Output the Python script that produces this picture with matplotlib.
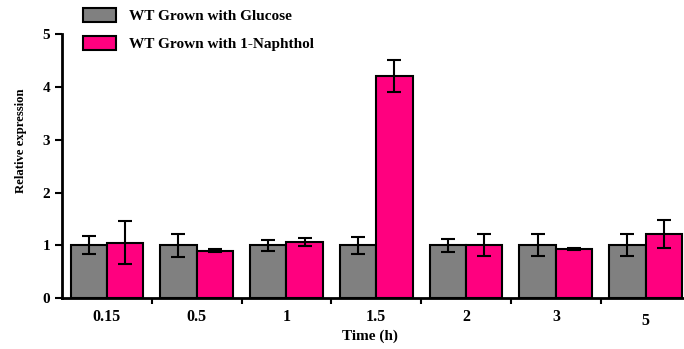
import matplotlib
matplotlib.use('Agg')
import matplotlib.pyplot as plt
import matplotlib.transforms as mtransforms
from matplotlib.patches import Patch
import numpy as np

plt.rcParams['font.family'] = ['Liberation Serif', 'DejaVu Serif']
plt.rcParams['font.weight'] = 'bold'

# data
times = ['0.15', '0.5', '1', '1.5', '2', '3', '5']
glucose = [1.0, 1.0, 1.0, 1.0, 1.0, 1.0, 1.0]
glucose_err = [0.17, 0.22, 0.10, 0.16, 0.12, 0.21, 0.21]
naphthol = [1.05, 0.90, 1.06, 4.21, 1.00, 0.93, 1.21]
naphthol_err = [0.41, 0.02, 0.08, 0.31, 0.21, 0.02, 0.27]

gray = '#808080'
pink = '#FF007F'

fig = plt.figure(figsize=(6.84, 3.49), dpi=100)
ax = fig.add_axes([0.0906, 0.146, 0.919, 0.756])

x = np.arange(len(times))
w = 0.405
ekw = dict(ecolor='black', elinewidth=1.5, capsize=5, capthick=1.5)
ax.bar(x - w / 2, glucose, w, yerr=glucose_err, color=gray, edgecolor='black',
       linewidth=1.5, error_kw=ekw)
ax.bar(x + w / 2, naphthol, w, yerr=naphthol_err, color=pink, edgecolor='black',
       linewidth=1.5, error_kw=ekw)

ax.set_xlim(-0.5, len(times) - 0.5)
ax.set_ylim(0, 5)
ax.set_yticks([0, 1, 2, 3, 4, 5])
ax.set_xticks(x)
ax.set_xticklabels(times)
ax.set_xticks(np.arange(len(times) - 1) + 0.5, minor=True)
ax.tick_params(axis='x', which='major', length=0, pad=8, labelsize=11.5)
ax.tick_params(axis='x', which='minor', direction='out', length=4, width=1.5)
ax.tick_params(axis='y', direction='out', length=5, width=1.5, labelsize=11)

# the last label sits a little lower in the original
last = ax.get_xticklabels()[-1]
last.set_transform(last.get_transform() +
                   mtransforms.ScaledTranslation(0, -3 / 72, fig.dpi_scale_trans))

for s in ['top', 'right']:
    ax.spines[s].set_visible(False)
for s in ['left', 'bottom']:
    ax.spines[s].set_linewidth(2)

ax.set_xlabel('Time (h)', fontsize=11, fontweight='bold')
ax.xaxis.set_label_coords(0.49, -0.12)
ax.set_ylabel('Relative expression', fontsize=9.2, fontweight='bold')
ax.yaxis.set_label_coords(-0.056, 0.595)

handles = [Patch(facecolor=gray, edgecolor='black', linewidth=1.5),
           Patch(facecolor=pink, edgecolor='black', linewidth=1.5)]
fig.legend(handles, ['WT Grown with Glucose', 'WT Grown with 1-Naphthol'],
           loc='upper left', bbox_to_anchor=(0.11, 1.0), frameon=False,
           prop={'size': 11, 'weight': 'bold'}, handlelength=2.2,
           handleheight=1.05, labelspacing=0.85, handletextpad=0.85,
           borderaxespad=0.1)

fig.savefig('out.png', dpi=100)
